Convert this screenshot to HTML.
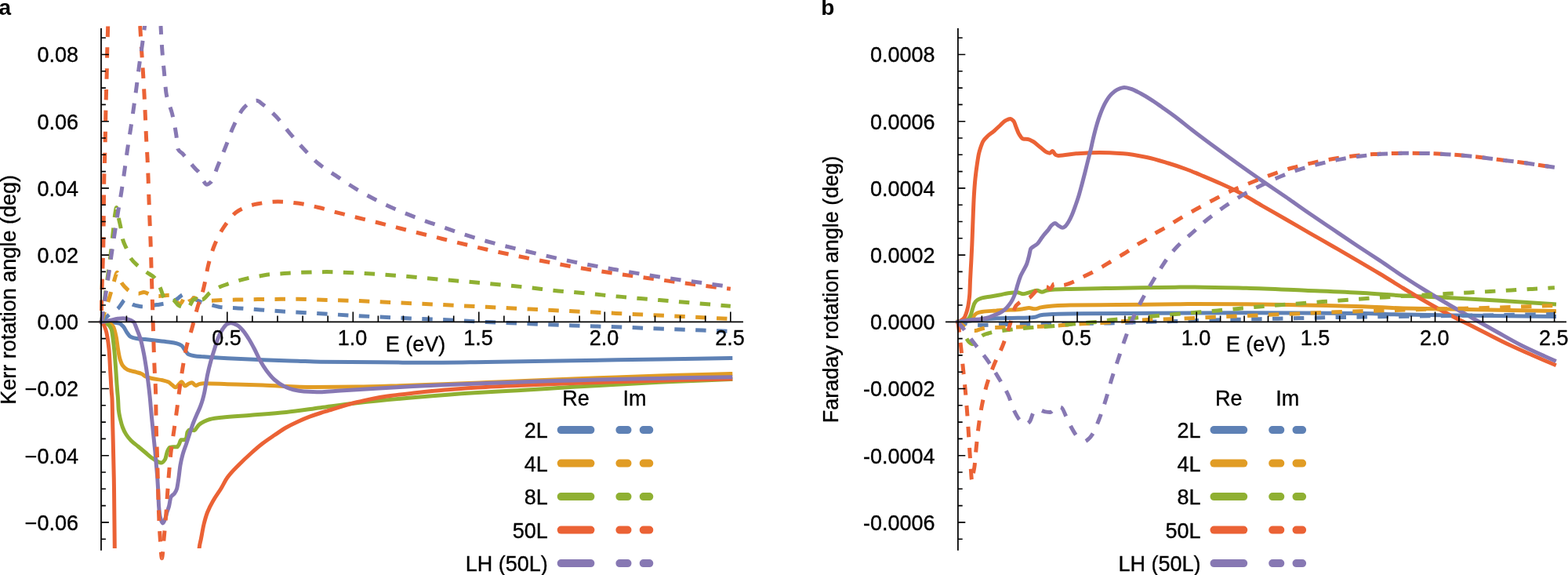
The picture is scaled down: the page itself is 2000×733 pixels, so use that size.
<!DOCTYPE html>
<html lang="en">
<head>
<meta charset="utf-8">
<title>Kerr and Faraday rotation angles</title>
<style>
html,body{margin:0;padding:0;background:#fff;}
body{width:2000px;height:733px;overflow:hidden;}
svg{display:block;}
</style>
</head>
<body>

<svg width="2000" height="733" viewBox="0 0 2000 733">
<rect width="2000" height="733" fill="#fff"/>
<defs>
<clipPath id="ca_im"><rect x="100" y="33" width="900" height="700"/></clipPath>
<clipPath id="ca_re"><rect x="100" y="33" width="900" height="666"/></clipPath>
<clipPath id="cb_im"><rect x="1200" y="33" width="800" height="700"/></clipPath>
<clipPath id="cb_re"><rect x="1200" y="33" width="800" height="700"/></clipPath>
</defs>
<g id="panel-a">
<g fill="none" stroke-width="5.0" stroke-linejoin="round">
<path d="M129.4,410.4C132.93,410.42 136.47,410.61 140,410.8C143.83,411.01 147.67,411.24 151.5,412C153.5,412.4 155.5,414.39 157.5,416.5C159,418.08 160.5,421.93 162,424C163.5,426.07 165,428.56 166.5,429.3C169,430.54 171.5,431.12 174,431.5C177.67,432.06 181.33,432.22 185,432.6C190,433.12 195,433.64 200,434.2C205,434.76 210,435.29 215,436C218.53,436.5 222.07,436.89 225.6,437.8C227.6,438.31 229.6,439.11 231.6,440.5C233.07,441.52 234.53,444.67 236,446.5C237.53,448.42 239.07,451.12 240.6,451.8C243.07,452.89 245.53,453.35 248,453.7C252,454.26 256,454.49 260,454.8C270,455.57 280,456.16 290,456.7C305,457.51 320,458.22 335,458.8C350,459.38 365,459.82 380,460.3C389.57,460.61 399.13,461.07 408.7,461.2C433.37,461.55 458.03,461.59 482.7,461.8C501.07,461.96 519.43,462.3 537.8,462.3C565.37,462.3 592.93,461.82 620.5,461.5C657.23,461.07 693.97,460.4 730.7,459.8C767.47,459.2 804.23,458.47 841,457.9C871.27,457.43 901.53,456.99 931.8,456.6" stroke="#5e81b5" stroke-linecap="square" clip-path="url(#ca_re)"/>
<path d="M129.4,410.4C132.27,410.4 135.13,410.85 138,411.5C140.17,411.99 142.33,413.6 144.5,416.5C145.77,418.2 147.03,423.91 148.3,430C149.03,433.52 149.77,440.66 150.5,445C151.27,449.54 152.03,454.38 152.8,457C154.03,461.21 155.27,464.34 156.5,466C158.5,468.69 160.5,470.41 162.5,471.3C166.5,473.08 170.5,473.41 174.5,474.6C176.5,475.19 178.5,475.66 180.5,476.5C182.5,477.34 184.5,479.49 186.5,480.3C189,481.32 191.5,481.95 194,482.5C198.53,483.5 203.07,483.8 207.6,484.8C210.07,485.35 212.53,485.88 215,487C216.53,487.7 218.07,489.66 219.6,490.8C221.07,491.89 222.53,493.8 224,493.8C225.53,493.8 227.07,490.7 228.6,489.3C229.6,488.38 230.6,486.7 231.6,486.7C233.07,486.7 234.53,491.9 236,491.9C237.53,491.9 239.07,489.95 240.6,489.3C242.07,488.68 243.53,487.8 245,487.8C246.53,487.8 248.07,491.5 249.6,491.5C251.07,491.5 252.53,489.91 254,489.6C256,489.18 258,488.8 260,488.8C270,488.8 280,489.39 290,489.7C305,490.16 320,490.6 335,491.1C356.67,491.83 378.33,493.5 400,493.5C418.33,493.5 436.67,493.31 455,493.1C473.33,492.89 491.67,492.24 510,491.7C528.43,491.16 546.87,490.48 565.3,489.8C583.7,489.12 602.1,488.35 620.5,487.6C638.87,486.85 657.23,486.07 675.6,485.3C693.97,484.53 712.33,483.73 730.7,483C749.07,482.27 767.43,481.56 785.8,480.9C804.2,480.23 822.6,479.56 841,479C859.33,478.44 877.67,478.01 896,477.5C907.93,477.17 919.87,476.84 931.8,476.5" stroke="#e19c24" stroke-linecap="square" clip-path="url(#ca_re)"/>
<path d="M129.4,410.4C131.7,410.4 134,411.36 136.3,412.5C138.2,413.44 140.1,415.3 142,419.5C143.2,422.15 144.4,434.08 145.6,445C146.23,450.76 146.87,459.08 147.5,467.5C148,474.15 148.5,483.24 149,490C149.27,493.6 149.53,496.82 149.8,500C150.03,502.78 150.27,504.75 150.5,508C150.77,511.72 151.03,520.06 151.3,522.5C152.03,529.21 152.77,531.34 153.5,534.5C154.5,538.81 155.5,542.41 156.5,545C158,548.89 159.5,551.67 161,554C163,557.11 165,559.47 167,561.5C170,564.54 173,566.5 176,569C179,571.5 182,574 185,576.5C188,579 191,581.86 194,584C196,585.43 198,586.87 200,587.8C202,588.73 204,590 206,590C207.53,590 209.07,587.94 210.6,585.5C211.6,583.91 212.6,577.1 213.6,575C214.6,572.9 215.6,570.8 216.6,570.5C218.07,570.06 219.53,569.8 221,569.8C222.53,569.8 224.07,569.8 225.6,569.8C226.6,569.8 227.6,567.68 228.6,566C229.33,564.77 230.07,560.8 230.8,560.8C232.07,560.8 233.33,560.8 234.6,560.8C235.6,560.8 236.6,559.98 237.6,558.5C238.07,557.81 238.53,551.86 239,551C240,549.16 241,548 242,548C244,548 246,548.8 248,548.8C249,548.8 250,546.25 251,545C252,543.75 253,542.17 254,541.3C256,539.56 258,538.48 260,537.5C262.53,536.26 265.07,535.07 267.6,534.5C272.6,533.37 277.6,532.84 282.6,532.3C295.07,530.95 307.53,530.32 320,529.3C335,528.07 350,527.04 365,525.5C379.57,524.01 394.13,521.69 408.7,519.8C424.13,517.79 439.57,515.54 455,513.8C480,510.99 505,508.63 530,506.5C555,504.37 580,502.37 605,500.8C623.33,499.65 641.67,498.87 660,497.8C683.57,496.42 707.13,494.7 730.7,493.3C749.07,492.21 767.43,491.2 785.8,490.2C804.2,489.2 822.6,488.16 841,487.3C859.33,486.45 877.67,485.77 896,485C907.93,484.5 919.87,484 931.8,483.5" stroke="#8fb032" stroke-linecap="square" clip-path="url(#ca_re)"/>
<path d="M129.4,410.4C131.13,410.4 132.87,414.77 134.6,419.5C136.07,423.5 137.53,431.47 139,445C139.6,450.53 140.2,465 140.8,475C141.3,483.33 141.8,493.37 142.3,500C142.53,503.09 142.77,503.78 143,508C143.27,512.82 143.53,533.03 143.8,545C144.3,567.45 144.8,582.6 145.3,610C145.37,613.65 145.43,618.04 145.5,623C145.77,642.84 146.03,677.99 146.3,699C146.4,706.88 146.5,713.68 146.6,720" stroke="#eb6235" stroke-linecap="square" clip-path="url(#ca_re)"/>
<path d="M253.3,720C253.57,711.51 253.83,701.59 254.1,699C254.83,691.87 255.57,691.3 256.3,687.5C257.57,680.93 258.83,673.15 260.1,668C261.6,661.9 263.1,656.83 264.6,653C267.1,646.62 269.6,642.38 272.1,638C275.33,632.33 278.57,628.29 281.8,623C284.53,618.53 287.27,612.56 290,608.8C295,601.92 300,597.41 305,592.3C310,587.19 315,582.48 320,578C325,573.52 330,569.13 335,565.3C340,561.47 345,558.18 350,554.8C355,551.42 360,547.83 365,545C370,542.17 375,539.78 380,537.5C385,535.22 390,533.09 395,531.2C399.57,529.48 404.13,527.97 408.7,526.5C411.63,525.55 414.57,524.68 417.5,523.8C430,520.03 442.5,515.77 455,512.8C467.5,509.83 480,507.18 492.5,505.3C505,503.43 517.5,502.17 530,500.8C542.53,499.42 555.07,498.08 567.6,497C580.07,495.93 592.53,494.95 605,494.2C623.33,493.1 641.67,492.32 660,491.5C683.57,490.44 707.13,489.45 730.7,488.6C749.07,487.94 767.43,487.36 785.8,486.8C804.2,486.23 822.6,485.7 841,485.2C859.33,484.7 877.67,484.23 896,483.8C907.93,483.52 919.87,483.25 931.8,483" stroke="#eb6235" stroke-linecap="square" clip-path="url(#ca_re)"/>
<path d="M129.4,410.4C132.93,409.84 136.47,409.2 140,408.5C143.33,407.84 146.67,406.65 150,406.3C152.33,406.06 154.67,405.8 157,405.8C159,405.8 161,406.45 163,407C165.5,407.68 168,408.37 170.5,410.4C171.83,411.48 173.17,416.23 174.5,419.5C176,423.18 177.5,426.55 179,431.5C180.5,436.45 182,443.37 183.5,451C184.5,456.09 185.5,462.44 186.5,469C187.27,474.03 188.03,479.49 188.8,485.5C189.53,491.25 190.27,497.39 191,504.5C191.77,511.94 192.53,521.85 193.3,530C194.03,537.8 194.77,545.17 195.5,552.5C196.27,560.17 197.03,566.96 197.8,575C198.47,581.99 199.13,589.56 199.8,597.5C200.13,601.47 200.47,605.27 200.8,610C201.07,613.79 201.33,618 201.6,623C201.93,629.25 202.27,641.5 202.6,645.5C203.23,653.11 203.87,657.69 204.5,660C205.53,663.76 206.57,667 207.6,667C208.67,667 209.73,663.69 210.8,661C211.53,659.15 212.27,655.42 213,653C213.83,650.25 214.67,648.58 215.5,645.5C216.33,642.42 217.17,634.95 218,633.5C219.53,630.83 221.07,631.06 222.6,629C223.6,627.65 224.6,626.07 225.6,623C226.33,620.75 227.07,614.91 227.8,610C228.53,605.09 229.27,597.23 230,593C231,587.23 232,583.11 233,579.5C234.53,573.97 236.07,570.6 237.6,566C239.07,561.6 240.53,556.9 242,552.5C243.53,547.9 245.07,543.03 246.6,539C248.07,535.14 249.53,531.92 251,528.5C252.53,524.92 254.07,522.01 255.6,518C256.6,515.38 257.6,512.49 258.6,509C259.33,506.44 260.07,503.46 260.8,500C262.07,494.02 263.33,484.1 264.6,478C266.07,470.94 267.53,465.33 269,460C270.53,454.43 272.07,449.85 273.6,445C275.07,440.36 276.53,435.09 278,431.5C280,426.6 282,422.37 284,419.5C286,416.63 288,413.57 290,412.8C291.53,412.21 293.07,411.7 294.6,411.7C297.07,411.7 299.53,413.06 302,414.3C304.53,415.57 307.07,418.24 309.6,421C312.07,423.69 314.53,427.61 317,431.5C319.53,435.49 322.07,440.2 324.6,445C327.07,449.67 329.53,455.62 332,460C334.53,464.5 337.07,468.59 339.6,472C343.07,476.66 346.53,480.98 350,484C354,487.48 358,490.35 362,492.3C366,494.25 370,495.89 374,496.8C378.53,497.83 383.07,498.71 387.6,499C394.63,499.45 401.67,499.8 408.7,499.8C415,499.8 421.3,498.81 427.6,498.4C436.73,497.8 445.87,497.34 455,496.8C473.33,495.72 491.67,494.51 510,493.5C528.43,492.49 546.87,491.52 565.3,490.7C583.7,489.88 602.1,489.18 620.5,488.5C638.87,487.82 657.23,487.2 675.6,486.6C693.97,486 712.33,485.41 730.7,484.9C749.07,484.39 767.43,483.91 785.8,483.5C804.2,483.09 822.6,482.77 841,482.4C859.33,482.03 877.67,481.6 896,481.3C907.93,481.11 919.87,480.94 931.8,480.8" stroke="#8778b3" stroke-linecap="square" clip-path="url(#ca_re)"/>
<path d="M129.4,410.4C130.27,409.35 131.13,408.36 132,407.5C133.33,406.18 134.67,405.17 136,404C137.33,402.83 138.67,401.54 140,400.5C141.67,399.2 143.33,398.16 145,397C146.87,395.7 148.73,394.83 150.6,393.1C151.9,391.9 153.2,389.75 154.5,388C155.7,386.38 156.9,384.1 158.1,383C158.9,382.27 159.7,381.3 160.5,381.3C161.33,381.3 162.17,382.33 163,383C164,383.8 165,385.24 166,386C167.27,386.96 168.53,387.81 169.8,388.3C171.87,389.1 173.93,389.63 176,390C178.3,390.41 180.6,390.9 182.9,390.9C185.27,390.9 187.63,390.49 190,390.2C192.37,389.91 194.73,389.35 197.1,389C199.07,388.71 201.03,388.49 203,388.2C205.3,387.86 207.6,387.49 209.9,387.1C211.93,386.76 213.97,386.51 216,386C218.33,385.41 220.67,384.26 223,383C224.67,382.1 226.33,380.69 228,379.5C229.83,378.19 231.67,375.97 233.5,375.5C234.5,375.24 235.5,375 236.5,375C239.33,375 242.17,378.07 245,379.5C248.83,381.43 252.67,383.61 256.5,385" stroke="#5e81b5" stroke-dasharray="13.43 13.43" stroke-linecap="butt" clip-path="url(#ca_im)"/>
<path d="M256.5,385C261.27,386.72 266.03,387.94 270.8,389.1C275.03,390.13 279.27,391.42 283.5,391.8C290.27,392.41 297.03,392.49 303.8,392.9C321.73,393.99 339.67,395.64 357.6,396.8C374.63,397.9 391.67,398.8 408.7,399.8C424.13,400.7 439.57,401.66 455,402.5C473.33,403.5 491.67,404.48 510,405.3C528.43,406.12 546.87,406.65 565.3,407.5C583.7,408.35 602.1,409.65 620.5,410.5C638.87,411.35 657.23,411.95 675.6,412.7C693.97,413.45 712.33,414.33 730.7,415C749.07,415.67 767.43,416.14 785.8,416.8C804.2,417.46 822.6,418.3 841,419C859.33,419.7 877.67,420.28 896,421C907.93,421.47 919.87,421.97 931.8,422.5" stroke="#5e81b5" stroke-dasharray="13.43 13.43" stroke-linecap="butt" stroke-dashoffset="12.36" clip-path="url(#ca_im)"/>
<path d="M129.4,410.4C130.43,407.29 131.47,404.16 132.5,401C133.8,397.03 135.1,393.01 136.4,389C137.53,385.51 138.67,382.2 139.8,378.5C141,374.58 142.2,370.23 143.4,366C144.57,361.89 145.73,357.36 146.9,353.5C147.43,351.74 147.97,349.39 148.5,348.5C148.83,347.94 149.17,347.3 149.5,347.3C149.93,347.3 150.37,348.23 150.8,349C151.37,350.01 151.93,352.46 152.5,354C153.37,356.36 154.23,359.01 155.1,360.5C156.57,363.02 158.03,364.43 159.5,366C161.03,367.64 162.57,369.3 164.1,370.3C166.07,371.58 168.03,372.76 170,373.2C172.33,373.72 174.67,374.2 177,374.2C179.2,374.2 181.4,372.4 183.6,372.4C185.87,372.4 188.13,374.16 190.4,375C192.27,375.69 194.13,376.81 196,377C198.37,377.24 200.73,377.4 203.1,377.4C205.4,377.4 207.7,377 210,376.8C212.2,376.6 214.4,376.2 216.6,376.2C218.4,376.2 220.2,377.58 222,379C223.33,380.05 224.67,383.32 226,385C227,386.26 228,388.3 229,388.3C230,388.3 231,386.38 232,385C233.27,383.26 234.53,378.86 235.8,377.8C236.7,377.05 237.6,376.3 238.5,376.3C240,376.3 241.5,383.5 243,383.5C244.5,383.5 246,379.6 247.5,379.6C248.67,379.6 249.83,380.79 251,381.5C252.33,382.31 253.67,384.3 255,384.3C257.33,384.3 259.67,383.76 262,383.6" stroke="#e19c24" stroke-dasharray="13.43 13.43" stroke-linecap="butt" clip-path="url(#ca_im)"/>
<path d="M262,383.6C264.67,383.42 267.33,383.33 270,383.2C276.67,382.88 283.33,382.48 290,382.3C296.67,382.12 303.33,382.01 310,381.9C323.33,381.69 336.67,381.47 350,381.4C360,381.35 370,381.3 380,381.3C390.33,381.3 400.67,381.9 411,382.2C425.67,382.63 440.33,382.98 455,383.5C473.33,384.15 491.67,385.15 510,386C528.43,386.85 546.87,387.72 565.3,388.6C583.7,389.48 602.1,390.38 620.5,391.3C638.87,392.22 657.23,393.18 675.6,394.1C693.97,395.02 712.33,395.92 730.7,396.8C749.07,397.68 767.43,398.53 785.8,399.4C804.2,400.27 822.6,401.12 841,402C859.33,402.88 877.67,403.76 896,404.7C907.93,405.31 919.87,405.95 931.8,406.6" stroke="#e19c24" stroke-dasharray="13.43 13.43" stroke-linecap="butt" stroke-dashoffset="18.89" clip-path="url(#ca_im)"/>
<path d="M129.4,410.4C130.6,402.19 131.8,393.72 133,385C134.33,375.31 135.67,365 137,355C138.33,345 139.67,336.01 141,325C142.03,316.47 143.07,306 144.1,296.8C145.07,288.19 146.03,276.96 147,271.5C147.53,268.49 148.07,264.5 148.6,264.5C149.5,264.5 150.4,273.73 151.3,278C152.3,282.74 153.3,286.27 154.3,291.5C155.03,295.34 155.77,302.3 156.5,305C158.27,311.51 160.03,313.56 161.8,317.8C163.37,321.56 164.93,326.64 166.5,329C170.1,334.42 173.7,336.97 177.3,340C180.53,342.72 183.77,344.68 187,347C190.5,349.51 194,350.79 197.5,354.5C199.77,356.9 202.03,362.24 204.3,366.9C206.17,370.74 208.03,378.78 209.9,380C212.27,381.54 214.63,382.6 217,382.6C218,382.6 219,381.7 220,381.7C222.5,381.7 225,387.52 227.5,389C229,389.89 230.5,390.62 232,391C233.5,391.38 235,391.42 236.5,391.8C237.5,392.05 238.5,393 239.5,393C240.67,393 241.83,389.83 243,388C244.1,386.28 245.2,383.03 246.3,382.3C247.53,381.48 248.77,380.8 250,380.8C251.33,380.8 252.67,382.5 254,382.5C255.33,382.5 256.67,382.27 258,382" stroke="#8fb032" stroke-dasharray="13.43 13.43" stroke-linecap="butt" clip-path="url(#ca_im)"/>
<path d="M258,382C261.27,381.35 264.53,375.38 267.8,373C271.53,370.28 275.27,368 279,366.3C283.5,364.25 288,362.92 292.5,361.4C296.5,360.05 300.5,358.71 304.5,357.6C309,356.36 313.5,355.23 318,354.3C322.27,353.42 326.53,352.73 330.8,352C335.3,351.23 339.8,350.23 344.3,349.8C348.8,349.37 353.3,349.22 357.8,348.9C362.3,348.58 366.8,348.1 371.3,347.9C386.37,347.22 401.43,346.6 416.5,346.6C429.33,346.6 442.17,347.41 455,348C473.33,348.84 491.67,350.22 510,351.6C528.43,352.99 546.87,354.9 565.3,356.5C583.7,358.1 602.1,359.51 620.5,361.2C638.87,362.89 657.23,364.74 675.6,366.7C687.87,368.01 700.13,369.75 712.4,370.9C718.5,371.47 724.6,371.87 730.7,372.4C749.07,374 767.43,375.97 785.8,377.7C796.2,378.68 806.6,379.69 817,380.6C825,381.3 833,381.93 841,382.6C859.33,384.13 877.67,385.66 896,387.2C905.87,388.03 915.73,388.89 925.6,389.7C927.67,389.87 929.73,390.03 931.8,390.2" stroke="#8fb032" stroke-dasharray="13.43 13.43" stroke-linecap="butt" stroke-dashoffset="0.34" clip-path="url(#ca_im)"/>
<path d="M129.45,396C129.53,390.22 129.62,383.76 129.7,380C130.13,360.44 130.57,354.02 131,340C131.3,330.3 131.6,325.62 131.9,309.5C132,304.13 132.1,291.05 132.2,281.8C132.3,272.55 132.4,263.04 132.5,254C132.6,244.96 132.7,232.54 132.8,227.5C133.07,214.05 133.33,211.33 133.6,202C133.83,193.84 134.07,185.85 134.3,175C134.47,167.25 134.63,154.65 134.8,146.5C135,136.72 135.2,128.57 135.4,121C135.67,110.91 135.93,105.28 136.2,94C136.37,86.95 136.53,74.05 136.7,67C136.97,55.72 137.23,49.2 137.5,40C137.57,37.7 137.63,35.36 137.7,33C137.87,27.1 138.03,21.12 138.2,15" stroke="#eb6235" stroke-dasharray="13.43 13.43" stroke-linecap="butt" clip-path="url(#ca_im)"/>
<path d="M178.7,33C179.4,45.05 180.1,56.54 180.8,67.5C181.37,76.37 181.93,83.71 182.5,93C183,101.2 183.5,110.34 184,120C184.43,128.37 184.87,137.47 185.3,147C185.7,155.8 186.1,167 186.5,175C187,185 187.5,190.83 188,201C188.37,208.45 188.73,217.62 189.1,227.5C189.4,235.59 189.7,246.22 190,254.8C190.33,264.33 190.67,273.22 191,281.8C191.37,291.24 191.73,298.2 192.1,308.8C192.4,317.47 192.7,329.88 193,340C193.5,356.86 194,372.37 194.5,389C194.77,397.87 195.03,407.43 195.3,416C195.87,434.21 196.43,453.9 197,467.5C197.5,479.5 198,481.75 198.5,497.5C198.77,505.9 199.03,534.13 199.3,545C199.7,561.3 200.1,567.78 200.5,581C200.77,589.81 201.03,599.33 201.3,610C201.4,614 201.5,619.25 201.6,623C202,638.01 202.4,651.43 202.8,660.5C203.37,673.36 203.93,682.16 204.5,690C205.13,698.76 205.77,711.7 206.4,711.7" stroke="#eb6235" stroke-dasharray="13.43 13.43" stroke-linecap="butt" clip-path="url(#ca_im)"/>
<path d="M206.4,711.7C207.4,711.7 208.4,693.37 209.4,683C210.2,674.7 211,666.36 211.8,656C212.4,648.23 213,637.5 213.6,629C214.23,620.02 214.87,611.12 215.5,603.5C216.33,593.48 217.17,583.75 218,576.5C219.27,565.49 220.53,558.5 221.8,549.5C223.07,540.5 224.33,531.96 225.6,522.5C226.6,515.03 227.6,506.32 228.6,499C230.07,488.26 231.53,477.98 233,469C234.53,459.62 236.07,450.14 237.6,443.5C240.07,432.82 242.53,426.88 245,418C247.43,409.24 249.87,398.55 252.3,390.5C254.37,383.66 256.43,379.47 258.5,372.1C259.53,368.41 260.57,363.75 261.6,358.9C262.8,353.27 264,345.01 265.2,340C267.9,328.74 270.6,320.04 273.3,313.3C277.4,303.07 281.5,295.26 285.6,289.3C291.6,280.58 297.6,272.46 303.6,269C311.6,264.39 319.6,261.39 327.6,260C336.6,258.44 345.6,257 354.6,257C363.6,257 372.6,258.2 381.6,259.3C389.87,260.31 398.13,262.53 406.4,264.5C413.47,266.18 420.53,268.44 427.6,270.3C436.73,272.7 445.87,274.93 455,277.2C464.23,279.5 473.47,281.68 482.7,284C491.8,286.28 500.9,288.7 510,291C528.43,295.65 546.87,300.2 565.3,304.7C583.7,309.19 602.1,313.88 620.5,318C638.87,322.11 657.23,325.84 675.6,329.5C693.97,333.16 712.33,336.81 730.7,340C749.07,343.19 767.43,346.06 785.8,348.8C804.2,351.54 822.6,353.96 841,356.5C859.33,359.03 877.67,361.67 896,364C907.93,365.52 919.87,366.94 931.8,368.3" stroke="#eb6235" stroke-dasharray="13.43 13.43" stroke-linecap="butt" stroke-dashoffset="4.74" clip-path="url(#ca_im)"/>
<path d="M129.4,410.4C131.1,399.25 132.8,388.12 134.5,377C135.87,368.06 137.23,359.53 138.6,350.2C139.83,341.78 141.07,332.31 142.3,323.8C143.63,314.6 144.97,305.77 146.3,297.1C147.7,288 149.1,279.08 150.5,270.5C152,261.31 153.5,253.35 155,243.8C156.27,235.73 157.53,226.75 158.8,217.8C160.03,209.09 161.27,199.23 162.5,190.8C163.87,181.46 165.23,173.6 166.6,164.5C167.9,155.84 169.2,146.78 170.5,137.5C171.7,128.93 172.9,120.17 174.1,111C175.23,102.34 176.37,92.38 177.5,84C178.77,74.64 180.03,66.92 181.3,57.8C182.4,49.88 183.5,41.26 184.6,33C185.4,26.99 186.2,20.99 187,15" stroke="#8778b3" stroke-dasharray="13.43 13.43" stroke-linecap="butt" clip-path="url(#ca_im)"/>
<path d="M205,33C205.67,45.69 206.33,57.23 207,66C207.83,76.96 208.67,84.34 209.5,93C210.4,102.35 211.3,115.08 212.2,120C214.67,133.49 217.13,134.78 219.6,145C221.33,152.18 223.07,160.65 224.8,172C225.53,176.8 226.27,188.51 227,190C229,194.05 231,193.82 233,196C234.27,197.38 235.53,199.01 236.8,200.5C241.07,205.53 245.33,210.89 249.6,215.5C251.07,217.08 252.53,218.02 254,220C255.5,222.03 257,226.77 258.5,229C260.27,231.63 262.03,235.2 263.8,235.2C265.53,235.2 267.27,233.6 269,232C272,229.22 275,218.17 278,211C281.27,203.2 284.53,195.24 287.8,187C291.07,178.76 294.33,168.5 297.6,161.5C302.07,151.93 306.53,142.22 311,137.5C314,134.33 317,131.75 320,130.5C322.53,129.44 325.07,128.3 327.6,128.3C330.07,128.3 332.53,131.2 335,133C340.8,137.23 346.6,142.76 352.4,148.8C358.13,154.77 363.87,163.09 369.6,169.8C375.6,176.82 381.6,183.65 387.6,190C393.87,196.63 400.13,203.67 406.4,208.8C413.47,214.59 420.53,218.66 427.6,223.4C436.73,229.53 445.87,235.85 455,241.3C464.23,246.81 473.47,251.89 482.7,256.5C491.8,261.04 500.9,265.14 510,269C519.27,272.93 528.53,276.56 537.8,280C546.97,283.4 556.13,286.41 565.3,289.6C574.53,292.81 583.77,296.22 593,299.2C602.17,302.16 611.33,304.97 620.5,307.5C638.87,312.56 657.23,316.86 675.6,321.2C693.97,325.54 712.33,329.87 730.7,333.6C749.07,337.33 767.43,340.58 785.8,343.8C804.2,347.03 822.6,350.2 841,353C859.33,355.79 877.67,358.16 896,360.7C907.93,362.35 919.87,363.98 931.8,365.6" stroke="#8778b3" stroke-dasharray="13.43 13.43" stroke-linecap="butt" stroke-dashoffset="2.82" clip-path="url(#ca_im)"/>
</g>
<g stroke="#000" fill="none" stroke-linecap="butt">
<line x1="112.5" y1="410.4" x2="948.0" y2="410.4" stroke-width="1.75"/>
<line x1="129.0" y1="36.0" x2="129.0" y2="701.8" stroke-width="1.75"/>
<path d="M161.40,410.4V402.50M193.50,410.4V402.50M225.60,410.4V402.50M257.70,410.4V402.50M289.80,410.4V397.40M321.90,410.4V402.50M354.00,410.4V402.50M386.10,410.4V402.50M418.20,410.4V402.50M450.30,410.4V397.40M482.40,410.4V402.50M514.50,410.4V402.50M546.60,410.4V402.50M578.70,410.4V402.50M610.80,410.4V397.40M642.90,410.4V402.50M675.00,410.4V402.50M707.10,410.4V402.50M739.20,410.4V402.50M771.30,410.4V397.40M803.40,410.4V402.50M835.50,410.4V402.50M867.60,410.4V402.50M899.70,410.4V402.50M931.80,410.4V397.40" stroke-width="1.6"/>
<path d="M129.0,687.20H134.90M129.0,665.90H138.90M129.0,644.60H134.90M129.0,623.30H134.90M129.0,602.00H134.90M129.0,580.70H138.90M129.0,559.40H134.90M129.0,538.10H134.90M129.0,516.80H134.90M129.0,495.50H138.90M129.0,474.20H134.90M129.0,452.90H134.90M129.0,431.60H134.90M129.0,389.00H134.90M129.0,367.70H134.90M129.0,346.40H134.90M129.0,325.10H138.90M129.0,303.80H134.90M129.0,282.50H134.90M129.0,261.20H134.90M129.0,239.90H138.90M129.0,218.60H134.90M129.0,197.30H134.90M129.0,176.00H134.90M129.0,154.70H138.90M129.0,133.40H134.90M129.0,112.10H134.90M129.0,90.80H134.90M129.0,69.50H138.90M129.0,48.20H134.90" stroke-width="1.6"/>
</g>
<g font-family='"Liberation Sans", Arial, Helvetica, sans-serif' font-size="27" fill="#000" stroke="#000" stroke-width="0.35">
<text x="289.00" y="439.5" text-anchor="middle">0.5</text>
<text x="449.50" y="439.5" text-anchor="middle">1.0</text>
<text x="610.00" y="439.5" text-anchor="middle">1.5</text>
<text x="770.50" y="439.5" text-anchor="middle">2.0</text>
<text x="931.00" y="439.5" text-anchor="middle">2.5</text>
<text x="100.0" y="79.30" text-anchor="end">0.08</text>
<text x="100.0" y="164.50" text-anchor="end">0.06</text>
<text x="100.0" y="249.70" text-anchor="end">0.04</text>
<text x="100.0" y="334.90" text-anchor="end">0.02</text>
<text x="100.0" y="420.10" text-anchor="end">0.00</text>
<text x="100.0" y="505.30" text-anchor="end">−0.02</text>
<text x="100.0" y="590.50" text-anchor="end">−0.04</text>
<text x="100.0" y="675.70" text-anchor="end">−0.06</text>
<text x="530.0" y="448.0" text-anchor="middle">E (eV)</text>
<text transform="translate(19.5,369.4) rotate(-90)" text-anchor="middle">Kerr rotation angle (deg)</text>
</g>
<g font-family='"Liberation Sans", Arial, Helvetica, sans-serif' font-size="27" fill="#000" stroke="#000" stroke-width="0.35">
<text x="734.5" y="517.2" text-anchor="middle">Re</text>
<text x="809.5" y="517.2" text-anchor="middle">Im</text>
<text x="698.7" y="558.35" text-anchor="end">2L</text>
<text x="698.7" y="600.85" text-anchor="end">4L</text>
<text x="698.7" y="643.35" text-anchor="end">8L</text>
<text x="698.7" y="685.85" text-anchor="end">50L</text>
<text x="698.7" y="728.35" text-anchor="end">LH (50L)</text>
</g>
<g fill="none" stroke-width="10" stroke-linecap="round">
<path d="M715.7,548.10H753.4" stroke="#5e81b5"/>
<path d="M790.4,548.10H828.3" stroke="#5e81b5" stroke-dasharray="10.1 20.2"/>
<path d="M715.7,590.60H753.4" stroke="#e19c24"/>
<path d="M790.4,590.60H828.3" stroke="#e19c24" stroke-dasharray="10.1 20.2"/>
<path d="M715.7,633.10H753.4" stroke="#8fb032"/>
<path d="M790.4,633.10H828.3" stroke="#8fb032" stroke-dasharray="10.1 20.2"/>
<path d="M715.7,675.60H753.4" stroke="#eb6235"/>
<path d="M790.4,675.60H828.3" stroke="#eb6235" stroke-dasharray="10.1 20.2"/>
<path d="M715.7,718.10H753.4" stroke="#8778b3"/>
<path d="M790.4,718.10H828.3" stroke="#8778b3" stroke-dasharray="10.1 20.2"/>
</g>
<text x="-1.5" y="19.3" font-family='"Liberation Sans", Arial, Helvetica, sans-serif' font-size="28" font-weight="bold" fill="#000">a</text>
</g>
<g id="panel-b">
<g fill="none" stroke-width="5.0" stroke-linejoin="round">
<path d="M1221.9,410.3C1226.93,409.94 1231.97,409.5 1237,409C1242.17,408.49 1247.33,407.71 1252.5,407.2C1257.5,406.7 1262.5,406.08 1267.5,405.9C1275,405.62 1282.5,405.55 1290,405.4C1297.5,405.25 1305,405.25 1312.5,405C1315,404.92 1317.5,404.67 1320,404.3C1322.5,403.93 1325,402.11 1327.5,401.7C1330,401.29 1332.5,401.07 1335,400.9C1339.77,400.57 1344.53,400.31 1349.3,400.2C1359.53,399.97 1369.77,399.89 1380,399.8C1400,399.62 1420,399.5 1440,399.4C1490,399.14 1540,398.8 1590,398.8C1639.57,398.8 1689.13,399.09 1738.7,399.6C1755.8,399.77 1772.9,400.77 1790,401.1C1826.67,401.81 1863.33,402.19 1900,402.6C1927.5,402.91 1955,403.18 1982.5,403.4" stroke="#5e81b5" stroke-linecap="square" clip-path="url(#cb_re)"/>
<path d="M1221.9,410.3C1225.27,410.3 1228.63,409.82 1232,409.3C1234.83,408.86 1237.67,408.35 1240.5,406.5C1241.27,406 1242.03,402.91 1242.8,402C1244.03,400.54 1245.27,399.49 1246.5,399C1248.5,398.2 1250.5,397.78 1252.5,397.5C1257.5,396.81 1262.5,396.55 1267.5,396.2C1272.5,395.85 1277.5,395.54 1282.5,395.3C1287.5,395.06 1292.5,395.02 1297.5,394.7C1300,394.54 1302.5,394.14 1305,393.8C1307.5,393.46 1310,392.6 1312.5,392.6C1315,392.6 1317.5,393.8 1320,393.8C1322.5,393.8 1325,392.36 1327.5,391.9C1330,391.44 1332.5,391.07 1335,390.8C1339.77,390.28 1344.53,389.85 1349.3,389.6C1354.53,389.32 1359.77,389.08 1365,389C1385,388.69 1405,388.68 1425,388.5C1449.57,388.28 1474.13,388.13 1498.7,387.8C1504.13,387.73 1509.57,387.5 1515,387.5C1540,387.5 1565,387.64 1590,387.8C1615,387.96 1640,388.52 1665,389C1689.57,389.48 1714.13,390.02 1738.7,390.8C1755.8,391.34 1772.9,392.54 1790,393C1826.5,393.98 1863,394.31 1899.5,395C1927.17,395.52 1954.83,396.05 1982.5,396.6" stroke="#e19c24" stroke-linecap="square" clip-path="url(#cb_re)"/>
<path d="M1221.9,410.3C1224.6,410.3 1227.3,409.67 1230,409C1231.77,408.56 1233.53,407.88 1235.3,406.5C1236.3,405.72 1237.3,403.64 1238.3,401.3C1239.03,399.59 1239.77,396.12 1240.5,393.8C1241.27,391.37 1242.03,388.37 1242.8,387C1244.03,384.8 1245.27,383.32 1246.5,382.5C1248.5,381.17 1250.5,380.41 1252.5,379.9C1256.27,378.94 1260.03,378.65 1263.8,378C1267.53,377.35 1271.27,376.68 1275,376C1280,375.09 1285,373.59 1290,373.2C1292.53,373 1295.07,372.8 1297.6,372.8C1300.07,372.8 1302.53,374.8 1305,374.8C1308,374.8 1311,373.25 1314,372.5C1317,371.75 1320,370.3 1323,370.3C1325,370.3 1327,372.2 1329,372.2C1331,372.2 1333,370.7 1335,370.3C1337.53,369.79 1340.07,369.35 1342.6,369.2C1350.07,368.77 1357.53,368.69 1365,368.5C1380,368.12 1395,367.88 1410,367.6C1425,367.32 1440,367.03 1455,366.8C1469.57,366.57 1484.13,366.43 1498.7,366.2C1504.13,366.11 1509.57,365.9 1515,365.9C1540,365.9 1565,366.66 1590,367.3C1615,367.94 1640,369.26 1665,370.3C1689.57,371.32 1714.13,372.19 1738.7,373.5C1755.8,374.41 1772.9,375.97 1790,376.9C1807.5,377.85 1825,378.42 1842.5,379.3C1861.5,380.26 1880.5,381.37 1899.5,382.5C1927.17,384.15 1954.83,385.91 1982.5,387.8" stroke="#8fb032" stroke-linecap="square" clip-path="url(#cb_re)"/>
<path d="M1221.9,410.3C1223.27,410 1224.63,409.3 1226,408.5C1227.33,407.72 1228.67,406.77 1230,405C1231,403.67 1232,400.61 1233,397.5C1233.63,395.53 1234.27,393.24 1234.9,390C1235.27,388.12 1235.63,385.42 1236,382.5C1236.27,380.38 1236.53,378.67 1236.8,375C1237.03,371.79 1237.27,362.56 1237.5,357.5C1237.9,348.82 1238.3,342.83 1238.7,335C1239.07,327.82 1239.43,321.04 1239.8,312.5C1240.03,307.07 1240.27,300.22 1240.5,294C1240.77,286.89 1241.03,279.05 1241.3,272.5C1241.63,264.31 1241.97,255.68 1242.3,250C1242.87,240.34 1243.43,233.15 1244,227.5C1244.83,219.18 1245.67,213.62 1246.5,208C1247.17,203.5 1247.83,198.99 1248.5,196C1249.1,193.31 1249.7,191.34 1250.3,189.5C1251.53,185.73 1252.77,181.98 1254,180C1256,176.79 1258,175.18 1260,173.3C1262.5,170.96 1265,169.43 1267.5,167.3C1270,165.18 1272.5,162.75 1275,160.5C1277.5,158.25 1280,155.12 1282.5,153.8C1284.5,152.74 1286.5,151.5 1288.5,151.5C1290,151.5 1291.5,152.86 1293,154.5C1294,155.59 1295,159.56 1296,162C1297.27,165.08 1298.53,169 1299.8,171C1301.53,173.74 1303.27,176.72 1305,177C1307,177.32 1309,177.22 1311,177.5C1313,177.78 1315,178.94 1317,180C1320.53,181.87 1324.07,185.56 1327.6,188.3C1330.07,190.21 1332.53,192.94 1335,194C1336.27,194.54 1337.53,195.2 1338.8,195.2C1340.07,195.2 1341.33,192.6 1342.6,192.6C1343.83,192.6 1345.07,196.71 1346.3,197.3C1347.53,197.89 1348.77,198.4 1350,198.4C1357.53,198.4 1365.07,196.31 1372.6,195.8C1382.6,195.12 1392.6,194.4 1402.6,194.4C1412.6,194.4 1422.6,195.08 1432.6,195.8C1442.6,196.52 1452.6,198.5 1462.6,200.5C1471.73,202.33 1480.87,205.25 1490,208C1497.5,210.26 1505,212.76 1512.5,215.5C1520,218.24 1527.5,221.47 1535,224.6C1542.5,227.73 1550,230.91 1557.5,234.3C1565,237.69 1572.5,241.11 1580,245C1590,250.19 1600,256.55 1610,262.3C1620,268.05 1630,273.75 1640,279.5C1650,285.25 1660,291.05 1670,296.8C1680,302.55 1690,308.25 1700,314C1710,319.75 1720,325.47 1730,331.3C1740,337.13 1750,342.97 1760,349C1770,355.03 1780,361.42 1790,367.5C1797.5,372.06 1805,376.62 1812.5,381C1820,385.38 1827.5,389.67 1835,393.8C1842.5,397.93 1850,401.98 1857.5,405.8C1863.77,408.99 1870.03,411.88 1876.3,415C1882.53,418.11 1888.77,421.36 1895,424.5C1905,429.54 1915,434.76 1925,439.5C1935,444.24 1945,448.61 1955,453C1964.17,457.03 1973.33,460.96 1982.5,464.8" stroke="#eb6235" stroke-linecap="square" clip-path="url(#cb_re)"/>
<path d="M1221.9,410.3C1227.1,409.41 1232.3,408.62 1237.5,408C1242.5,407.4 1247.5,407.19 1252.5,406.5C1255,406.15 1257.5,405.67 1260,405C1262.5,404.33 1265,403 1267.5,402C1270,401 1272.5,400.27 1275,399C1277.5,397.73 1280,395.98 1282.5,393.8C1284.27,392.26 1286.03,390.18 1287.8,387.8C1289.03,386.14 1290.27,384.15 1291.5,381.8C1292.5,379.9 1293.5,377.71 1294.5,375C1295.77,371.57 1297.03,366.04 1298.3,362C1299.3,358.81 1300.3,355.44 1301.3,353C1302.53,350 1303.77,347.96 1305,345.5C1306.53,342.44 1308.07,340.43 1309.6,336.5C1310.6,333.94 1311.6,329.79 1312.6,326C1313.33,323.22 1314.07,318.03 1314.8,317C1316.07,315.22 1317.33,314.93 1318.6,314C1320.07,312.92 1321.53,312.31 1323,311C1325,309.21 1327,305.5 1329,302.8C1330,301.45 1331,300.03 1332,298.8C1333.53,296.91 1335.07,295.5 1336.6,293.6C1338.07,291.79 1339.53,288.9 1341,287.6C1342.53,286.24 1344.07,284.6 1345.6,284.6C1347.07,284.6 1348.53,286.74 1350,287.6C1351.77,288.63 1353.53,290.3 1355.3,290.3C1356.53,290.3 1357.77,289.26 1359,288.3C1360.27,287.32 1361.53,285.07 1362.8,283C1364.3,280.55 1365.8,277.43 1367.3,274C1368.8,270.57 1370.3,266.24 1371.8,262C1373.3,257.76 1374.8,253.45 1376.3,248.5C1377.53,244.43 1378.77,239.62 1380,235C1381.3,230.13 1382.6,225.13 1383.9,220C1385.13,215.13 1386.37,209.93 1387.6,205C1388.87,199.93 1390.13,195.39 1391.4,190C1392.13,186.88 1392.87,183.14 1393.6,180C1395.1,173.57 1396.6,167.27 1398.1,162C1399.87,155.79 1401.63,150.13 1403.4,145.5C1405.63,139.65 1407.87,134.36 1410.1,130.5C1412.6,126.17 1415.1,122.46 1417.6,120C1420.1,117.54 1422.6,115.4 1425.1,114.3C1428.07,113 1431.03,111.6 1434,111.6C1437.03,111.6 1440.07,112.63 1443.1,113.5C1447.1,114.65 1451.1,117.17 1455.1,119.3C1460.13,121.98 1465.17,125.06 1470.2,128.3C1475.2,131.52 1480.2,135.25 1485.2,138.8C1489.7,141.99 1494.2,145.13 1498.7,148.5C1505.8,153.82 1512.9,159.83 1520,165.3C1530,173 1540,180.44 1550,187.8C1560,195.16 1570,202.37 1580,209.5C1590,216.63 1600,223.69 1610,230.6C1620,237.51 1630,244.1 1640,251C1650,257.9 1660,265.12 1670,272C1680,278.88 1690,285.55 1700,292.3C1710,299.05 1720,305.85 1730,312.5C1740,319.15 1750,325.53 1760,332.2C1770,338.87 1780,345.96 1790,352.5C1800,359.04 1810,365.34 1820,371.5C1830,377.66 1840,383.67 1850,389.5C1860,395.33 1870,400.83 1880,406.5C1890,412.17 1900,417.92 1910,423.5C1920,429.08 1930,434.95 1940,440C1950,445.05 1960,449.49 1970,454C1974.17,455.88 1978.33,457.7 1982.5,459.5" stroke="#8778b3" stroke-linecap="square" clip-path="url(#cb_re)"/>
<path d="M1221.9,410.3C1224.6,410.9 1227.3,411.48 1230,412C1233.33,412.65 1236.67,413.57 1240,413.8C1244.93,414.14 1249.87,414.4 1254.8,414.4C1263.2,414.4 1271.6,413.65 1280,413.6C1289.47,413.54 1298.93,413.55 1308.4,413.5C1318.93,413.44 1329.47,413.15 1340,413C1353.33,412.81 1366.67,412.68 1380,412.5C1391.53,412.35 1403.07,412.23 1414.6,412C1432.57,411.65 1450.53,410.67 1468.5,410.2C1477.5,409.97 1486.5,409.83 1495.5,409.6C1513.53,409.14 1531.57,408.36 1549.6,407.9C1558.6,407.67 1567.6,407.5 1576.6,407.3C1585.6,407.1 1594.6,406.88 1603.6,406.7C1612.4,406.52 1621.2,406.38 1630,406.2C1639,406.02 1648,405.8 1657,405.6C1666,405.4 1675,405.19 1684,405C1692.67,404.82 1701.33,404.64 1710,404.5C1719.17,404.35 1728.33,404.23 1737.5,404.1C1758.33,403.8 1779.17,403.5 1800,403.2C1823.33,402.87 1846.67,402.54 1870,402.2C1890,401.91 1910,401.6 1930,401.3C1947.63,401.03 1965.27,400.77 1982.9,400.5" stroke="#5e81b5" stroke-dasharray="13.43 13.43" stroke-linecap="butt" stroke-dashoffset="1.31" clip-path="url(#cb_im)"/>
<path d="M1221.9,410.3C1223.6,411.51 1225.3,412.75 1227,414C1229,415.47 1231,417.29 1233,418.5C1234.83,419.61 1236.67,421.18 1238.5,421.3C1240.43,421.43 1242.37,421.5 1244.3,421.5C1246.4,421.5 1248.5,420.16 1250.6,419.6C1252.87,419 1255.13,418.16 1257.4,418C1264.03,417.54 1270.67,417.47 1277.3,417.3C1286.03,417.08 1294.77,416.99 1303.5,416.8C1311.67,416.62 1319.83,416.48 1328,416.2C1335.33,415.95 1342.67,415.46 1350,415C1360,414.38 1370,413.39 1380,412.8C1390,412.21 1400,411.9 1410,411.3C1418,410.82 1426,410.05 1434,409.5C1444,408.81 1454,408.03 1464,407.6C1473,407.21 1482,407.02 1491,406.7C1499.77,406.39 1508.53,406.07 1517.3,405.7C1526.3,405.32 1535.3,404.8 1544.3,404.4C1553.3,404 1562.3,403.67 1571.3,403.3C1580.07,402.94 1588.83,402.58 1597.6,402.2C1606.6,401.81 1615.6,401.38 1624.6,401C1633.6,400.62 1642.6,400.27 1651.6,399.9C1660.6,399.53 1669.6,399.15 1678.6,398.8C1687.6,398.45 1696.6,398.13 1705.6,397.8C1714.63,397.47 1723.67,397.1 1732.7,396.8C1741.57,396.51 1750.43,396.26 1759.3,396C1772.87,395.6 1786.43,395.17 1800,394.8C1813.33,394.44 1826.67,394.12 1840,393.8C1858.33,393.35 1876.67,393 1895,392.5C1912.53,392.02 1930.07,391.41 1947.6,390.8C1956.6,390.49 1965.6,390.13 1974.6,389.8C1977.37,389.7 1980.13,389.6 1982.9,389.5" stroke="#e19c24" stroke-dasharray="13.43 13.43" stroke-linecap="butt" stroke-dashoffset="2.56" clip-path="url(#cb_im)"/>
<path d="M1221.9,410.3C1223.6,413.45 1225.3,416.69 1227,420C1228.67,423.25 1230.33,427.16 1232,430C1233.33,432.27 1234.67,434.73 1236,436C1237.33,437.27 1238.67,438.8 1240,438.8C1241.5,438.8 1243,437.2 1244.5,436C1246,434.8 1247.5,432.36 1249,431C1250.67,429.49 1252.33,428 1254,427.2C1256.13,426.17 1258.27,425.66 1260.4,425C1262.53,424.34 1264.67,423.62 1266.8,423.2C1273.53,421.87 1280.27,421.19 1287,420.4C1295.67,419.39 1304.33,418.53 1313,417.8C1321.73,417.07 1330.47,416.61 1339.2,415.9C1347.8,415.2 1356.4,414.33 1365,413.5C1371.67,412.86 1378.33,412.11 1385,411.5C1390.87,410.96 1396.73,410.64 1402.6,410C1407.6,409.46 1412.6,408.35 1417.6,407.8C1426.57,406.81 1435.53,406.3 1444.5,405.5C1453.77,404.67 1463.03,403.73 1472.3,402.9C1481.3,402.1 1490.3,401.38 1499.3,400.6C1508.03,399.84 1516.77,399.07 1525.5,398.3C1534.53,397.5 1543.57,396.72 1552.6,395.9C1561.6,395.09 1570.6,394.23 1579.6,393.4C1588.33,392.6 1597.07,391.75 1605.8,391C1614.83,390.22 1623.87,389.52 1632.9,388.8C1641.9,388.09 1650.9,387.4 1659.9,386.7C1668.9,386 1677.9,385.27 1686.9,384.6C1695.67,383.94 1704.43,383.33 1713.2,382.7C1722.07,382.06 1730.93,381.43 1739.8,380.8C1748.8,380.16 1757.8,379.5 1766.8,378.9C1775.87,378.3 1784.93,377.72 1794,377.2C1802.93,376.69 1811.87,376.29 1820.8,375.8C1829.53,375.32 1838.27,374.78 1847,374.3C1856,373.81 1865,373.37 1874,372.9C1883,372.43 1892,372 1901,371.5C1909.8,371.01 1918.6,370.41 1927.4,369.9C1936.4,369.38 1945.4,368.9 1954.4,368.4C1963.9,367.87 1973.4,367.34 1982.9,366.8" stroke="#8fb032" stroke-dasharray="13.43 13.43" stroke-linecap="butt" stroke-dashoffset="2.83" clip-path="url(#cb_im)"/>
<path d="M1221.9,410.3C1222.43,414.32 1222.97,418.54 1223.5,423C1224.27,429.42 1225.03,436.29 1225.8,443.5C1226.7,451.97 1227.6,461.62 1228.5,470.5C1229.4,479.38 1230.3,487.16 1231.2,496.8C1231.97,505.01 1232.73,513.94 1233.5,524C1234.1,531.88 1234.7,541.16 1235.3,550.3C1235.87,558.93 1236.43,568.52 1237,577.3C1237.5,585.05 1238,593.52 1238.5,600C1238.83,604.32 1239.17,611.5 1239.5,611.5" stroke="#eb6235" stroke-dasharray="13.43 13.43" stroke-linecap="butt" clip-path="url(#cb_im)"/>
<path d="M1239.5,611.5C1240,611.5 1240.5,607.32 1241,605C1241.6,602.22 1242.2,599.99 1242.8,596C1243.63,590.46 1244.47,577.89 1245.3,569.8C1246.3,560.09 1247.3,550.26 1248.3,542.8C1249.7,532.36 1251.1,523.64 1252.5,516.5C1254.6,505.79 1256.7,497.06 1258.8,490C1261.87,479.69 1264.93,472.32 1268,464.8C1271.67,455.8 1275.33,449.72 1279,440.5C1281.83,433.37 1284.67,424.46 1287.5,416C1290.33,407.54 1293.17,393.12 1296,389.7C1299,386.08 1302,384.64 1305,383C1307.67,381.54 1310.33,381.11 1313,379.5C1316,377.69 1319,372.66 1322,370.5C1324.33,368.82 1326.67,366.96 1329,366.5C1330.9,366.12 1332.8,365.8 1334.7,365.8C1336.33,365.8 1337.97,368.5 1339.6,368.5C1341.23,368.5 1342.87,362 1344.5,362C1346.33,362 1348.17,364.3 1350,364.3C1352.4,364.3 1354.8,363.89 1357.2,363.5C1361.47,362.81 1365.73,360.79 1370,359C1373.87,357.38 1377.73,354.97 1381.6,353C1385.6,350.97 1389.6,349.11 1393.6,347C1397.6,344.89 1401.6,342.62 1405.6,340.3C1409.37,338.12 1413.13,335.76 1416.9,333.5C1420.63,331.26 1424.37,329.08 1428.1,326.8C1432.1,324.36 1436.1,321.97 1440.1,319.3C1443.6,316.96 1447.1,314.02 1450.6,311.8C1454.6,309.27 1458.6,307.52 1462.6,305C1466.13,302.77 1469.67,299.71 1473.2,297.5C1477.2,295 1481.2,293.15 1485.2,290.8C1490.8,287.51 1496.4,283.65 1502,280.3C1509.87,275.59 1517.73,271.17 1525.6,266.8C1533.5,262.41 1541.4,258.1 1549.3,254C1557.3,249.85 1565.3,245.6 1573.3,242C1581.6,238.26 1589.9,235.1 1598.2,231.8C1606.4,228.54 1614.6,225.2 1622.8,222.3C1631.3,219.3 1639.8,216.38 1648.3,214C1656.97,211.57 1665.63,209.49 1674.3,207.6C1683,205.7 1691.7,203.91 1700.4,202.5C1709.3,201.06 1718.2,199.76 1727.1,198.8C1735.37,197.91 1743.63,197.06 1751.9,196.6C1760.93,196.09 1769.97,195.72 1779,195.5C1782.67,195.41 1786.33,195.3 1790,195.3C1800,195.3 1810,195.38 1820,195.5C1830,195.62 1840,196.38 1850,197C1860,197.62 1870,198.49 1880,199.5C1890,200.51 1900,202.05 1910,203.3C1920,204.55 1930,205.65 1940,207C1950,208.35 1960,210.06 1970,211.5C1974.3,212.12 1978.6,212.71 1982.9,213.3" stroke="#eb6235" stroke-dasharray="13.43 13.43" stroke-linecap="butt" stroke-dashoffset="18.19" clip-path="url(#cb_im)"/>
<path d="M1221.9,410.3C1224.6,413.59 1227.3,416.98 1230,420.5C1234,425.71 1238,431.53 1242,436.8C1247.6,444.18 1253.2,450.31 1258.8,458.2C1263.57,464.92 1268.33,472.62 1273.1,480.6C1277.5,487.97 1281.9,494.75 1286.3,504.3C1288.8,509.73 1291.3,518.93 1293.8,524C1296.07,528.6 1298.33,532.93 1300.6,535.3C1302.4,537.18 1304.2,539.13 1306,539.5C1307.33,539.78 1308.67,540 1310,540C1311.1,540 1312.2,538.7 1313.3,537.5C1315.07,535.57 1316.83,526.9 1318.6,525.5C1320.73,523.81 1322.87,522.5 1325,522.5C1327.6,522.5 1330.2,524.41 1332.8,524.8C1335.07,525.14 1337.33,525.5 1339.6,525.5C1341.07,525.5 1342.53,523.29 1344,522.2C1345.67,520.96 1347.33,518.5 1349,518.5C1350.6,518.5 1352.2,518.92 1353.8,519.5C1355.8,520.23 1357.8,526.81 1359.8,530.8C1361.8,534.79 1363.8,539.77 1365.8,543.5C1368.07,547.73 1370.33,551.74 1372.6,554.8C1374.4,557.23 1376.2,559.94 1378,561" stroke="#8778b3" stroke-dasharray="13.43 13.43" stroke-linecap="butt" clip-path="url(#cb_im)"/>
<path d="M1378,561C1379.67,561.98 1381.33,563 1383,563C1384.67,563 1386.33,561.32 1388,560C1389.87,558.52 1391.73,556.17 1393.6,553.3C1396.37,549.05 1399.13,541.56 1401.9,534.5C1404.8,527.1 1407.7,518.3 1410.6,509C1413.03,501.2 1415.47,491.25 1417.9,483.3C1420.7,474.16 1423.5,466.2 1426.3,457.8C1429.17,449.2 1432.03,440.3 1434.9,432.3C1438.13,423.28 1441.37,414.28 1444.6,406.8C1448.47,397.86 1452.33,390.3 1456.2,383C1460.8,374.32 1465.4,366.67 1470,359C1473.57,353.05 1477.13,347.34 1480.7,341.8C1483.2,337.92 1485.7,333.91 1488.2,330.5C1492.57,324.55 1496.93,319.09 1501.3,314.5C1507.53,307.95 1513.77,303.1 1520,297.5C1526.77,291.42 1533.53,284.99 1540.3,279.5C1547.53,273.63 1554.77,268.29 1562,263.3C1569.53,258.1 1577.07,253.12 1584.6,248.8C1592.33,244.37 1600.07,240.58 1607.8,236.8C1616.07,232.76 1624.33,228.72 1632.6,225.3C1641.1,221.79 1649.6,218.49 1658.1,215.8C1666.6,213.11 1675.1,210.88 1683.6,208.8C1692.2,206.69 1700.8,204.66 1709.4,203.1C1718.3,201.49 1727.2,200.09 1736.1,199C1744.97,197.92 1753.83,196.78 1762.7,196.3C1771.8,195.81 1780.9,195.3 1790,195.3C1800,195.3 1810,195.38 1820,195.5C1830,195.62 1840,196.38 1850,197C1860,197.62 1870,198.49 1880,199.5C1890,200.51 1900,202.05 1910,203.3C1920,204.55 1930,205.65 1940,207C1950,208.35 1960,210.06 1970,211.5C1974.3,212.12 1978.6,212.71 1982.9,213.3" stroke="#8778b3" stroke-dasharray="13.43 13.43" stroke-linecap="butt" stroke-dashoffset="19.34" clip-path="url(#cb_im)"/>
</g>
<g stroke="#000" fill="none" stroke-linecap="butt">
<line x1="1206.0" y1="410.4" x2="1998.0" y2="410.4" stroke-width="1.75"/>
<line x1="1221.9" y1="36.0" x2="1221.9" y2="701.8" stroke-width="1.75"/>
<path d="M1252.33,410.4V402.50M1282.76,410.4V402.50M1313.19,410.4V402.50M1343.62,410.4V402.50M1374.05,410.4V397.40M1404.48,410.4V402.50M1434.91,410.4V402.50M1465.34,410.4V402.50M1495.77,410.4V402.50M1526.20,410.4V397.40M1556.63,410.4V402.50M1587.06,410.4V402.50M1617.49,410.4V402.50M1647.92,410.4V402.50M1678.35,410.4V397.40M1708.78,410.4V402.50M1739.21,410.4V402.50M1769.64,410.4V402.50M1800.07,410.4V402.50M1830.50,410.4V397.40M1860.93,410.4V402.50M1891.36,410.4V402.50M1921.79,410.4V402.50M1952.22,410.4V402.50M1982.65,410.4V397.40" stroke-width="1.6"/>
<path d="M1221.9,687.20H1227.70M1221.9,665.90H1231.30M1221.9,644.60H1227.70M1221.9,623.30H1227.70M1221.9,602.00H1227.70M1221.9,580.70H1231.30M1221.9,559.40H1227.70M1221.9,538.10H1227.70M1221.9,516.80H1227.70M1221.9,495.50H1231.30M1221.9,474.20H1227.70M1221.9,452.90H1227.70M1221.9,431.60H1227.70M1221.9,389.00H1227.70M1221.9,367.70H1227.70M1221.9,346.40H1227.70M1221.9,325.10H1231.30M1221.9,303.80H1227.70M1221.9,282.50H1227.70M1221.9,261.20H1227.70M1221.9,239.90H1231.30M1221.9,218.60H1227.70M1221.9,197.30H1227.70M1221.9,176.00H1227.70M1221.9,154.70H1231.30M1221.9,133.40H1227.70M1221.9,112.10H1227.70M1221.9,90.80H1227.70M1221.9,69.50H1231.30M1221.9,48.20H1227.70" stroke-width="1.6"/>
</g>
<g font-family='"Liberation Sans", Arial, Helvetica, sans-serif' font-size="27" fill="#000" stroke="#000" stroke-width="0.35">
<text x="1373.25" y="439.5" text-anchor="middle">0.5</text>
<text x="1525.40" y="439.5" text-anchor="middle">1.0</text>
<text x="1677.55" y="439.5" text-anchor="middle">1.5</text>
<text x="1829.70" y="439.5" text-anchor="middle">2.0</text>
<text x="1981.85" y="439.5" text-anchor="middle">2.5</text>
<text x="1192.6" y="79.30" text-anchor="end">0.0008</text>
<text x="1192.6" y="164.50" text-anchor="end">0.0006</text>
<text x="1192.6" y="249.70" text-anchor="end">0.0004</text>
<text x="1192.6" y="334.90" text-anchor="end">0.0002</text>
<text x="1192.6" y="420.10" text-anchor="end">0.0000</text>
<text x="1192.6" y="505.30" text-anchor="end">-0.0002</text>
<text x="1192.6" y="590.50" text-anchor="end">-0.0004</text>
<text x="1192.6" y="675.70" text-anchor="end">-0.0006</text>
<text x="1602.0" y="448.0" text-anchor="middle">E (eV)</text>
<text transform="translate(1069.0,369.0) rotate(-90)" text-anchor="middle">Faraday rotation angle (deg)</text>
</g>
<g font-family='"Liberation Sans", Arial, Helvetica, sans-serif' font-size="27" fill="#000" stroke="#000" stroke-width="0.35">
<text x="1567.3" y="517.2" text-anchor="middle">Re</text>
<text x="1642.3" y="517.2" text-anchor="middle">Im</text>
<text x="1531.5" y="558.35" text-anchor="end">2L</text>
<text x="1531.5" y="600.85" text-anchor="end">4L</text>
<text x="1531.5" y="643.35" text-anchor="end">8L</text>
<text x="1531.5" y="685.85" text-anchor="end">50L</text>
<text x="1531.5" y="728.35" text-anchor="end">LH (50L)</text>
</g>
<g fill="none" stroke-width="10" stroke-linecap="round">
<path d="M1548.5,548.10H1586.2" stroke="#5e81b5"/>
<path d="M1623.2,548.10H1661.1" stroke="#5e81b5" stroke-dasharray="10.1 20.2"/>
<path d="M1548.5,590.60H1586.2" stroke="#e19c24"/>
<path d="M1623.2,590.60H1661.1" stroke="#e19c24" stroke-dasharray="10.1 20.2"/>
<path d="M1548.5,633.10H1586.2" stroke="#8fb032"/>
<path d="M1623.2,633.10H1661.1" stroke="#8fb032" stroke-dasharray="10.1 20.2"/>
<path d="M1548.5,675.60H1586.2" stroke="#eb6235"/>
<path d="M1623.2,675.60H1661.1" stroke="#eb6235" stroke-dasharray="10.1 20.2"/>
<path d="M1548.5,718.10H1586.2" stroke="#8778b3"/>
<path d="M1623.2,718.10H1661.1" stroke="#8778b3" stroke-dasharray="10.1 20.2"/>
</g>
<text x="1047.2" y="19.4" font-family='"Liberation Sans", Arial, Helvetica, sans-serif' font-size="28" font-weight="bold" fill="#000">b</text>
</g>
</svg>
</body>
</html>
